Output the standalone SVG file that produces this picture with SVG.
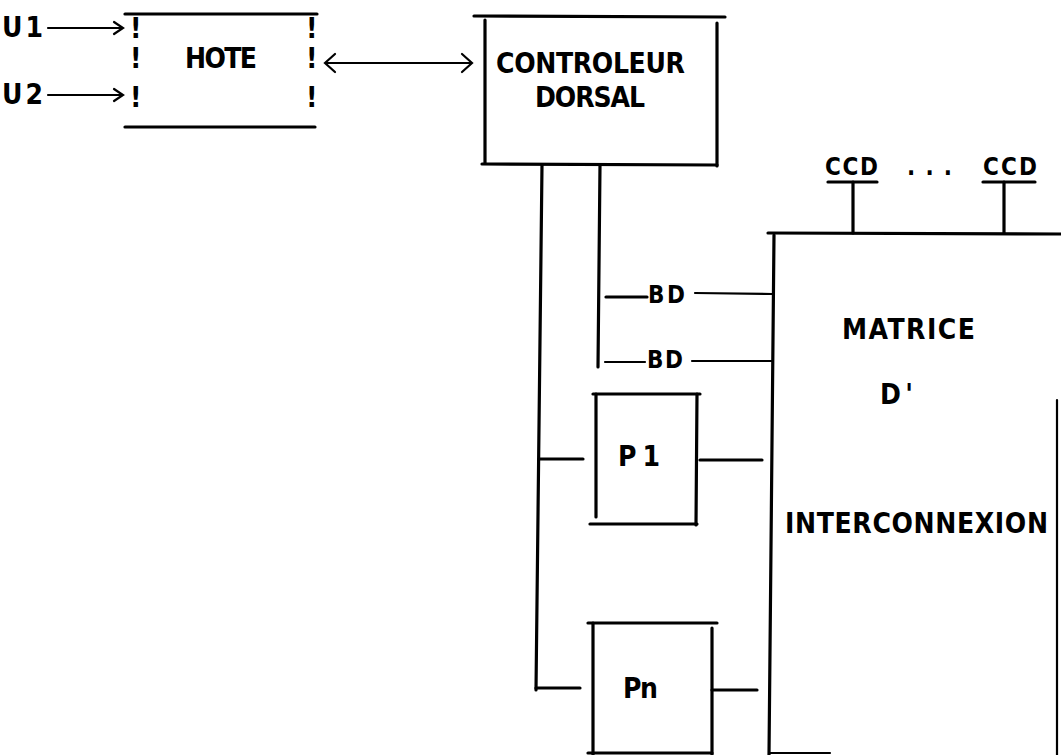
<svg xmlns="http://www.w3.org/2000/svg" width="1061" height="755" viewBox="0 0 1061 755">
<style>
.ln{stroke:#000;stroke-width:3.2;fill:none;stroke-linecap:round}
.th{stroke:#000;stroke-width:2.2;fill:none;stroke-linecap:round}
.t{font-family:"DejaVu Sans Condensed","DejaVu Sans","Liberation Sans",sans-serif;font-stretch:condensed;font-weight:bold;fill:#000;font-size:28px}
.s{font-size:24px}
</style>
<rect width="1061" height="755" fill="#fff"/>
<g id="hote">
<line class="ln" x1="125" y1="14" x2="317" y2="14"/>
<line class="ln" x1="125" y1="127" x2="315" y2="127"/>
<text class="t" x="130" y="38">!</text>
<text class="t" x="130" y="68">!</text>
<text class="t" x="130" y="107">!</text>
<text class="t" x="306" y="38">!</text>
<text class="t" x="306" y="68">!</text>
<text class="t" x="306" y="107">!</text>
<text class="t" x="185" y="68" textLength="72" lengthAdjust="spacing">HOTE</text>
</g>
<g id="inputs">
<text class="t" x="2" y="37" textLength="41" lengthAdjust="spacing">U1</text>
<text class="t" x="2" y="104" textLength="41" lengthAdjust="spacing">U2</text>
</g>
<g id="controleur">
<line class="ln" x1="474" y1="16" x2="725" y2="17"/>
<line class="ln" x1="485" y1="20" x2="485" y2="163"/>
<line class="ln" x1="717" y1="23" x2="717" y2="166"/>
<line class="ln" x1="482" y1="164" x2="717" y2="165"/>
<text class="t" x="496" y="73" textLength="189" lengthAdjust="spacing">CONTROLEUR</text>
<text class="t" x="535" y="107" textLength="110" lengthAdjust="spacing">DORSAL</text>
</g>
<g id="matrice">
<line class="ln" x1="768" y1="233" x2="1061" y2="234"/>
<line class="ln" x1="774" y1="235" x2="769" y2="755"/>
<line class="th" x1="1057" y1="400" x2="1057" y2="755"/>
<line class="th" x1="769" y1="753" x2="830" y2="753"/>
<text class="t" x="842" y="339" textLength="133" lengthAdjust="spacing">MATRICE</text>
<text class="t" x="880" y="404" textLength="33" lengthAdjust="spacing">D'</text>
<text class="t" x="785" y="533" textLength="263" lengthAdjust="spacing">INTERCONNEXION</text>
</g>
<g id="ccd1">
<text class="t s" x="825" y="175" textLength="53" lengthAdjust="spacing">CCD</text>
<line class="ln" x1="828" y1="182" x2="877" y2="182"/>
</g>
<text class="t s" x="907" y="175" textLength="45" lengthAdjust="spacing">...</text>
<g id="ccd2">
<text class="t s" x="983" y="175" textLength="54" lengthAdjust="spacing">CCD</text>
<line class="ln" x1="983" y1="182" x2="1035" y2="182"/>
</g>
<g id="p1">
<line class="ln" x1="593" y1="394" x2="700" y2="394"/>
<line class="ln" x1="596" y1="394" x2="596" y2="517"/>
<line class="ln" x1="697" y1="394" x2="696" y2="525"/>
<line class="ln" x1="590" y1="524" x2="697" y2="524"/>
<text class="t" x="618" y="466" textLength="42" lengthAdjust="spacing">P1</text>
</g>
<g id="pn">
<line class="ln" x1="588" y1="623" x2="717" y2="623"/>
<line class="ln" x1="593" y1="623" x2="593" y2="755"/>
<line class="ln" x1="712" y1="628" x2="712" y2="755"/>
<line class="ln" x1="588" y1="753" x2="712" y2="753"/>
<text class="t" x="623" y="698" textLength="35" lengthAdjust="spacing">Pn</text>
</g>
<g id="bd">
<text class="t s" x="648" y="303" textLength="37" lengthAdjust="spacing">BD</text>
<text class="t s" x="647" y="368" textLength="36" lengthAdjust="spacing">BD</text>
</g>
<g id="connectors">
<line class="th" x1="48" y1="28" x2="121" y2="28"/>
<polyline class="th" points="114,22 123,28 114,34"/>
<line class="th" x1="48" y1="95" x2="121" y2="95"/>
<polyline class="th" points="114,89 123,95 114,101"/>
<line class="th" x1="326" y1="63" x2="471" y2="63"/>
<polyline class="th" points="335,54 325,63 335,72"/>
<polyline class="th" points="462,54 472,63 462,72"/>
<line class="ln" x1="542" y1="165" x2="536" y2="690"/>
<line class="ln" x1="600" y1="165" x2="598" y2="367"/>
<line class="ln" x1="606" y1="297" x2="647" y2="297"/>
<line class="th" x1="695" y1="293" x2="772" y2="294"/>
<line class="th" x1="605" y1="362" x2="645" y2="362"/>
<line class="th" x1="692" y1="361" x2="772" y2="361"/>
<line class="ln" x1="539" y1="459" x2="583" y2="459"/>
<line class="ln" x1="700" y1="460" x2="762" y2="460"/>
<line class="ln" x1="536" y1="688" x2="580" y2="688"/>
<line class="ln" x1="712" y1="690" x2="757" y2="690"/>
<line class="ln" x1="853" y1="182" x2="853" y2="233"/>
<line class="ln" x1="1004" y1="182" x2="1004" y2="233"/>
</g>
</svg>
